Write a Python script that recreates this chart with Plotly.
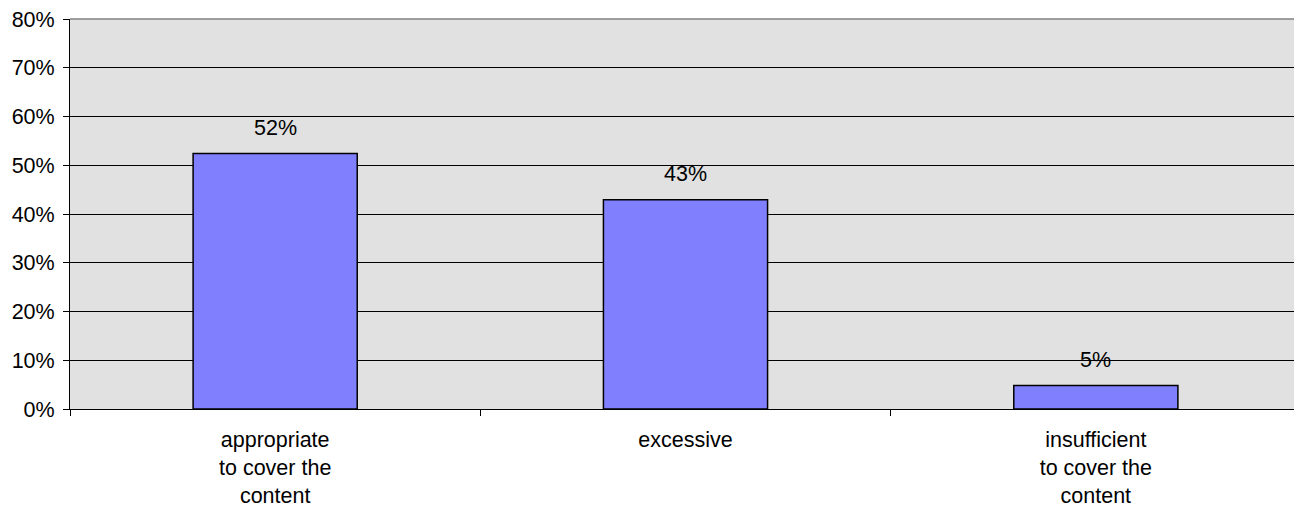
import plotly.graph_objects as go

categories = ["appropriate<br>to cover the<br>content", "excessive", "insufficient<br>to cover the<br>content"]
values = [52.4, 42.9, 4.8]
labels = ["52%", "43%", "5%"]
y_ticks = [0, 10, 20, 30, 40, 50, 60, 70, 80]
y_tick_text = ["0%", "10%", "20%", "30%", "40%", "50%", "60%", "70%", "80%"]

FONT = "Liberation Sans, Arial, sans-serif"
FS = 21.5

fig = go.Figure()
fig.add_trace(go.Bar(
    x=categories, y=values, width=0.4,
    marker=dict(color="#8080ff", line=dict(color="#000000", width=1.5)),
    hoverinfo="skip",
))

for c, v, t in zip(categories, values, labels):
    fig.add_annotation(x=c, y=v, text=t, showarrow=False, yanchor="middle", yshift=26,
                       font=dict(family=FONT, size=FS, color="#000000"))

# top and right frame (gray)
fig.add_shape(type="line", xref="paper", yref="paper", x0=0, x1=1, y0=1, y1=1,
              line=dict(color="#808080", width=1.5), layer="above")
fig.add_shape(type="line", xref="paper", yref="paper", x0=1, x1=1, y0=0, y1=1,
              line=dict(color="#808080", width=1.5), layer="above")

fig.update_layout(
    width=1294, height=504,
    margin=dict(l=62, r=1, t=11, b=103, pad=0, autoexpand=False),
    paper_bgcolor="#ffffff", plot_bgcolor="#e1e1e1",
    showlegend=False,
    font=dict(family=FONT, size=FS, color="#000000"),
    bargap=0.6,
)
fig.update_xaxes(
    showline=True, linecolor="#000000", linewidth=1,
    ticks="outside", ticklen=6, tickcolor="#000000", tickson="boundaries",
    showgrid=False, tickfont=dict(family=FONT, size=FS, color="#000000"),
    ticklabelstandoff=11, automargin=False,
)
fig.update_yaxes(
    range=[0, 80], tickvals=y_ticks, ticktext=y_tick_text,
    showline=True, linecolor="#000000", linewidth=1,
    ticks="outside", ticklen=6, tickcolor="#000000",
    showgrid=True, gridcolor="#000000", gridwidth=1, zeroline=False,
    tickfont=dict(family=FONT, size=FS, color="#000000"),
    ticklabelstandoff=4, automargin=False, ticklabeloverflow="allow",
)

fig.write_html("out.html")
